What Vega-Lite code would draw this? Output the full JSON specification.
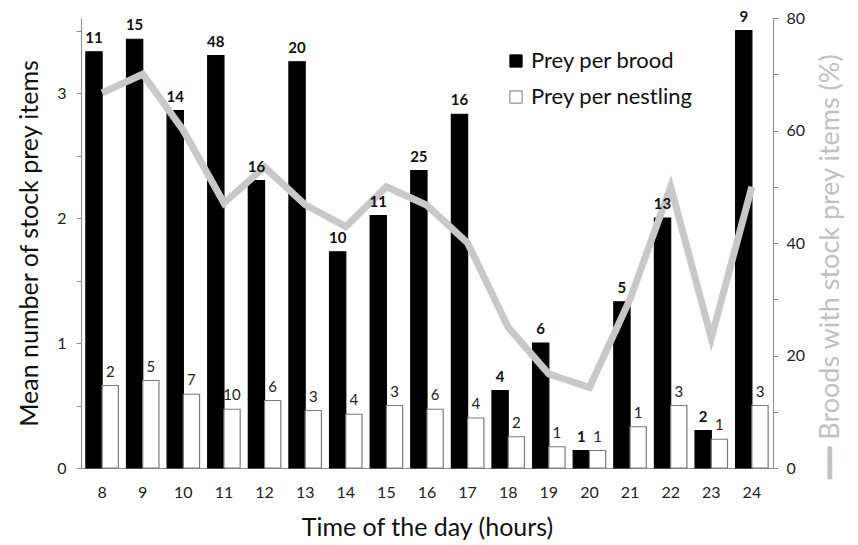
{
  "$schema": "https://vega.github.io/schema/vega-lite/v6.json",
  "width": 692,
  "height": 450,
  "autosize": {"type": "none"},
  "padding": {"left": 81, "top": 18, "right": 85, "bottom": 77},
  "background": "white",
  "config": {
    "font": "Lato",
    "view": {"stroke": null},
    "axis": {"grid": false, "domainColor": "#8c8c8c", "tickColor": "#8c8c8c", "labelColor": "#222222", "labelFont": "Lato", "titleFont": "Lato", "titleFontWeight": "normal", "titleColor": "#111111", "labelFontSize": 16, "titleFontSize": 25}
  },
  "datasets": {
    "bars": [
      {"hour": 8, "series": "Prey per brood", "value": 3.33, "n": 11},
      {"hour": 9, "series": "Prey per brood", "value": 3.43, "n": 15},
      {"hour": 10, "series": "Prey per brood", "value": 2.86, "n": 14},
      {"hour": 11, "series": "Prey per brood", "value": 3.3, "n": 48},
      {"hour": 12, "series": "Prey per brood", "value": 2.3, "n": 16},
      {"hour": 13, "series": "Prey per brood", "value": 3.25, "n": 20},
      {"hour": 14, "series": "Prey per brood", "value": 1.73, "n": 10},
      {"hour": 15, "series": "Prey per brood", "value": 2.02, "n": 11},
      {"hour": 16, "series": "Prey per brood", "value": 2.38, "n": 25},
      {"hour": 17, "series": "Prey per brood", "value": 2.83, "n": 16},
      {"hour": 18, "series": "Prey per brood", "value": 0.62, "n": 4},
      {"hour": 19, "series": "Prey per brood", "value": 1.0, "n": 6},
      {"hour": 20, "series": "Prey per brood", "value": 0.14, "n": 1},
      {"hour": 21, "series": "Prey per brood", "value": 1.33, "n": 5},
      {"hour": 22, "series": "Prey per brood", "value": 2.0, "n": 13},
      {"hour": 23, "series": "Prey per brood", "value": 0.3, "n": 2},
      {"hour": 24, "series": "Prey per brood", "value": 3.5, "n": 9},
      {"hour": 8, "series": "Prey per nestling", "value": 0.66, "n": 2},
      {"hour": 9, "series": "Prey per nestling", "value": 0.7, "n": 5},
      {"hour": 10, "series": "Prey per nestling", "value": 0.59, "n": 7},
      {"hour": 11, "series": "Prey per nestling", "value": 0.47, "n": 10},
      {"hour": 12, "series": "Prey per nestling", "value": 0.54, "n": 6},
      {"hour": 13, "series": "Prey per nestling", "value": 0.46, "n": 3},
      {"hour": 14, "series": "Prey per nestling", "value": 0.43, "n": 4},
      {"hour": 15, "series": "Prey per nestling", "value": 0.5, "n": 3},
      {"hour": 16, "series": "Prey per nestling", "value": 0.47, "n": 6},
      {"hour": 17, "series": "Prey per nestling", "value": 0.4, "n": 4},
      {"hour": 18, "series": "Prey per nestling", "value": 0.25, "n": 2},
      {"hour": 19, "series": "Prey per nestling", "value": 0.17, "n": 1},
      {"hour": 20, "series": "Prey per nestling", "value": 0.14, "n": 1},
      {"hour": 21, "series": "Prey per nestling", "value": 0.33, "n": 1},
      {"hour": 22, "series": "Prey per nestling", "value": 0.5, "n": 3},
      {"hour": 23, "series": "Prey per nestling", "value": 0.23, "n": 1},
      {"hour": 24, "series": "Prey per nestling", "value": 0.5, "n": 3}
    ],
    "line": [
      {"hour": 8, "pct": 66.7},
      {"hour": 9, "pct": 70.0},
      {"hour": 10, "pct": 60.0},
      {"hour": 11, "pct": 47.1},
      {"hour": 12, "pct": 53.5},
      {"hour": 13, "pct": 46.8},
      {"hour": 14, "pct": 42.9},
      {"hour": 15, "pct": 50.0},
      {"hour": 16, "pct": 46.7},
      {"hour": 17, "pct": 40.0},
      {"hour": 18, "pct": 25.0},
      {"hour": 19, "pct": 16.7},
      {"hour": 20, "pct": 14.3},
      {"hour": 21, "pct": 30.0},
      {"hour": 22, "pct": 50.0},
      {"hour": 23, "pct": 23.1},
      {"hour": 24, "pct": 50.0}
    ]
  },
  "layer": [
    {
      "data": {"name": "bars"},
      "mark": {"type": "bar", "strokeWidth": 1.2},
      "encoding": {
        "x": {"field": "hour", "type": "ordinal", "scale": {"paddingInner": 0.2, "paddingOuter": 0.12}, "axis": {"title": "Time of the day (hours)", "labelAngle": 0, "ticks": false, "labelPadding": 16, "titlePadding": 15}},
        "xOffset": {"field": "series", "type": "nominal", "scale": {"paddingInner": 0, "paddingOuter": 0}},
        "y": {"field": "value", "type": "quantitative", "scale": {"domain": [0, 3.6], "nice": false}, "axis": {"title": "Mean number of stock prey items", "values": [0, 0.5, 1, 1.5, 2, 2.5, 3, 3.5], "labelExpr": "datum.value % 1 === 0 ? format(datum.value, 'd') : ''", "tickSize": 5, "labelPadding": 10, "titlePadding": 14}},
        "fill": {"field": "series", "type": "nominal", "scale": {"range": ["#000000", "#ffffff"]}, "legend": {"title": null, "orient": "none", "legendX": 424, "legendY": 32, "symbolType": "square", "symbolSize": 150, "labelFontSize": 22, "labelLimit": 400, "labelColor": "#111111", "rowPadding": 14, "symbolStrokeWidth": 1}},
        "stroke": {"field": "series", "type": "nominal", "scale": {"range": ["#000000", "#7a7a7a"]}, "legend": {"title": null, "orient": "none", "legendX": 424, "legendY": 32, "symbolType": "square", "symbolSize": 150, "labelFontSize": 22, "labelLimit": 400, "labelColor": "#111111", "rowPadding": 14, "symbolStrokeWidth": 1}}
      }
    },
    {
      "data": {"name": "line"},
      "mark": {"type": "line", "color": "#c8c8c8", "strokeWidth": 7},
      "encoding": {
        "x": {"field": "hour", "type": "ordinal", "title": "Time of the day (hours)"},
        "y": {"field": "pct", "type": "quantitative", "scale": {"domain": [0, 80], "nice": false}, "axis": {"orient": "right", "title": "━━   Broods with stock prey items (%)", "titleAngle": 270, "titleBaseline": "top", "titleColor": "#c0c0c0", "titleFontSize": 27, "titleY": 248, "titleLimit": 600, "values": [0, 10, 20, 30, 40, 50, 60, 70, 80], "labelExpr": "datum.value % 20 === 0 ? datum.label : ''", "tickSize": 5, "labelPadding": 8, "titlePadding": 13}}
      }
    },
    {
      "data": {"name": "bars"},
      "transform": [{"filter": "datum.series === 'Prey per brood'"}],
      "mark": {"type": "text", "fontWeight": "bold", "fontSize": 15, "dy": -9, "baseline": "alphabetic", "color": "#111111"},
      "encoding": {
        "x": {"field": "hour", "type": "ordinal", "title": "Time of the day (hours)"},
        "xOffset": {"field": "series", "type": "nominal"},
        "y": {"field": "value", "type": "quantitative", "scale": {"domain": [0, 3.6], "nice": false}, "axis": null},
        "text": {"field": "n", "type": "quantitative"}
      }
    },
    {
      "data": {"name": "bars"},
      "transform": [{"filter": "datum.series === 'Prey per nestling'"}],
      "mark": {"type": "text", "fontSize": 15, "dy": -9, "baseline": "alphabetic", "color": "#222222"},
      "encoding": {
        "x": {"field": "hour", "type": "ordinal", "title": "Time of the day (hours)"},
        "xOffset": {"field": "series", "type": "nominal"},
        "y": {"field": "value", "type": "quantitative", "scale": {"domain": [0, 3.6], "nice": false}, "axis": null},
        "text": {"field": "n", "type": "quantitative"}
      }
    }
  ],
  "resolve": {"scale": {"y": "independent"}}
}
